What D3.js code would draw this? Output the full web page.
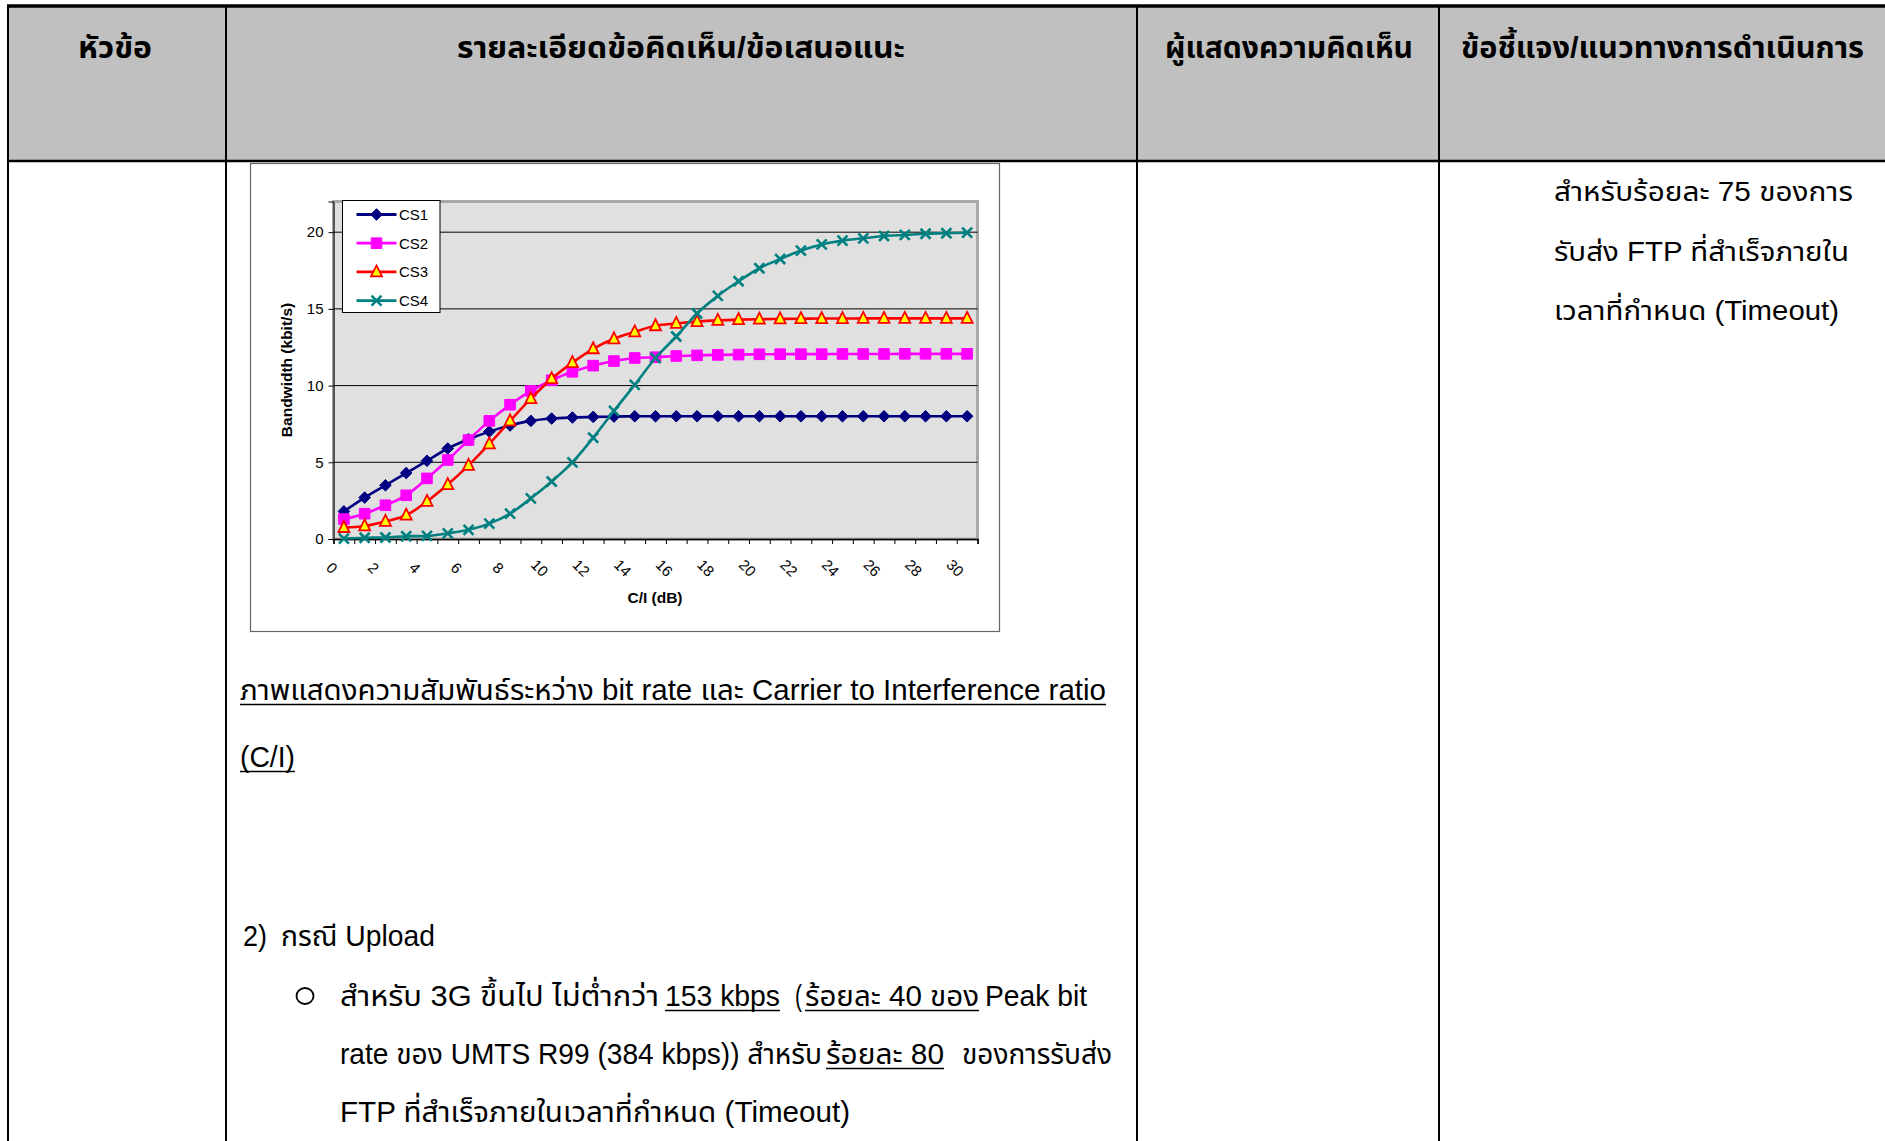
<!DOCTYPE html>
<html>
<head>
<meta charset="utf-8">
<script src="https://cdn.jsdelivr.net/npm/d3@7"></script>
<style>
  body { margin: 0; background: #fff; }
  svg { display: block; }
</style>
</head>
<body>
<svg id="page" width="1885" height="1141"></svg>
<script>
// --- chart data ---
const ciValues = [0, 1, 2, 3, 4, 5, 6, 7, 8, 9, 10, 11, 12, 13, 14, 15, 16, 17, 18, 19, 20, 21, 22, 23, 24, 25, 26, 27, 28, 29, 30];
const xTickLabels = [0, 2, 4, 6, 8, 10, 12, 14, 16, 18, 20, 22, 24, 26, 28, 30];
const yTickValues = [0, 5, 10, 15, 20];
const seriesNames = ['CS1', 'CS2', 'CS3', 'CS4'];
const cs1 = [1.8, 2.7, 3.5, 4.3, 5.1, 5.9, 6.5, 7.0, 7.4, 7.7, 7.85, 7.92, 7.96, 7.98, 8, 8, 8, 8, 8, 8, 8, 8, 8, 8, 8, 8, 8, 8, 8, 8, 8];
const cs2 = [1.3, 1.65, 2.2, 2.85, 3.95, 5.15, 6.45, 7.7, 8.75, 9.65, 10.35, 10.9, 11.3, 11.6, 11.8, 11.85, 11.93, 11.97, 12.0, 12.02, 12.04, 12.05, 12.05, 12.05, 12.06, 12.06, 12.06, 12.07, 12.07, 12.07, 12.07];
const cs3 = [0.75, 0.85, 1.15, 1.55, 2.45, 3.55, 4.8, 6.2, 7.7, 9.15, 10.45, 11.5, 12.4, 13.05, 13.5, 13.9, 14.05, 14.17, 14.25, 14.3, 14.33, 14.35, 14.36, 14.37, 14.37, 14.38, 14.38, 14.38, 14.38, 14.38, 14.38];
const cs4 = [0.02, 0.08, 0.1, 0.18, 0.2, 0.37, 0.6, 1.0, 1.65, 2.65, 3.75, 5.0, 6.6, 8.35, 10.05, 11.8, 13.2, 14.7, 15.85, 16.8, 17.65, 18.25, 18.8, 19.2, 19.45, 19.6, 19.75, 19.82, 19.9, 19.93, 19.97];

// --- table text ---
const headerTitles = ['หัวข้อ', 'รายละเอียดข้อคิดเห็น/ข้อเสนอแนะ', 'ผู้แสดงความคิดเห็น', 'ข้อชี้แจง/แนวทางการดำเนินการ'];
const captionLines = ['ภาพแสดงความสัมพันธ์ระหว่าง  bit rate และ Carrier to Interference ratio', '(C/I)'];
const uploadItem = ['2)', 'กรณี Upload'];
const uploadLines = [
  [['สำหรับ 3G ขึ้นไป ไม่ต่ำกว่า', false], ['153 kbps', true], ['(', false], ['ร้อยละ 40 ของ', true], ['Peak bit', false]],
  [['rate ของ UMTS R99 (384 kbps)) สำหรับ', false], ['ร้อยละ 80', true], ['ของการรับส่ง', false]],
  [['FTP ที่สำเร็จภายในเวลาที่กำหนด (Timeout)', false]]
];
const replyLines = ['สำหรับร้อยละ 75 ของการ', 'รับส่ง FTP ที่สำเร็จภายใน', 'เวลาที่กำหนด (Timeout)'];

const FONT = '"Liberation Sans Narrow", "Liberation Sans", "Noto Sans Thai", Loma, Garuda, sans-serif';
const CHART_FONT = '"Liberation Sans", Arial, sans-serif';

const svg = d3.select('#page');

// ---------- table frame ----------
const colX = [8, 226, 1137, 1439, 1885];
const headerTop = 6, headerBottom = 161;

svg.append('rect')
  .attr('x', colX[0]).attr('y', headerTop)
  .attr('width', 1885 - colX[0]).attr('height', headerBottom - headerTop)
  .style('fill', '#c0c0c0');

// vertical column lines
colX.slice(0, 4).forEach(x => {
  svg.append('line')
    .attr('x1', x).attr('x2', x)
    .attr('y1', headerTop).attr('y2', 1141)
    .style('stroke', '#000').style('stroke-width', 2);
});
svg.append('line')
  .attr('x1', colX[0] - 1).attr('x2', 1885).attr('y1', headerTop).attr('y2', headerTop)
  .style('stroke', '#000').style('stroke-width', 3.5);
svg.append('line')
  .attr('x1', colX[0] - 1).attr('x2', 1885).attr('y1', headerBottom).attr('y2', headerBottom)
  .style('stroke', '#000').style('stroke-width', 2.5);

// header titles, squeezed to the widths in the picture
const headerSpans = [[78, 152], [457, 905], [1165, 1413], [1461, 1864]];
headerTitles.forEach((t, i) => {
  svg.append('text')
    .attr('x', headerSpans[i][0]).attr('y', 58)
    .attr('textLength', headerSpans[i][1] - headerSpans[i][0])
    .attr('lengthAdjust', 'spacingAndGlyphs')
    .style('font-family', FONT)
    .style('font-weight', 'bold')
    .style('font-size', '30px')
    .style('fill', '#000')
    .text(t);
});

// helper for body text pieces
function bodyText(str, x0, x1, baseline, underline, size) {
  svg.append('text')
    .attr('x', x0).attr('y', baseline)
    .attr('textLength', x1 - x0)
    .attr('lengthAdjust', 'spacingAndGlyphs')
    .style('font-family', FONT)
    .style('font-size', (size || 29) + 'px')
    .style('fill', '#000')
    .text(str);
  if (underline) {
    svg.append('line')
      .attr('x1', x0).attr('x2', x1)
      .attr('y1', baseline + 4.5).attr('y2', baseline + 4.5)
      .style('stroke', '#000').style('stroke-width', 1.4);
  }
}

// caption below the chart
bodyText(captionLines[0], 240, 1106, 700, true);
bodyText(captionLines[1], 240, 295, 767, true);

// upload case
bodyText(uploadItem[0], 243, 267, 946, false);
bodyText(uploadItem[1], 281, 435, 946, false);
svg.append('ellipse')
  .attr('cx', 305).attr('cy', 996).attr('rx', 8.5).attr('ry', 8)
  .style('fill', 'none').style('stroke', '#000').style('stroke-width', 1.8);

const uploadSpans = [
  [[340, 659], [665, 780], [795, 802], [805, 979], [985, 1087]],
  [[340, 822], [826, 944], [962, 1112]],
  [[340, 850]]
];
const uploadBaselines = [1006, 1064, 1122];
uploadLines.forEach((line, li) => {
  line.forEach((seg, si) => {
    const span = uploadSpans[li][si];
    bodyText(seg[0], span[0], span[1], uploadBaselines[li], seg[1]);
  });
});

// reply column
const replySpans = [[1554, 1853], [1554, 1849], [1554, 1839]];
const replyBaselines = [201, 261, 320];
replyLines.forEach((t, i) => bodyText(t, replySpans[i][0], replySpans[i][1], replyBaselines[i], false, 27));

// ---------- chart ----------
const chartBox = { x: 250, y: 163, w: 749, h: 468 };
svg.append('rect')
  .attr('x', chartBox.x + 0.5).attr('y', chartBox.y + 0.5)
  .attr('width', chartBox.w).attr('height', chartBox.h)
  .style('fill', '#fff').style('stroke', '#666').style('stroke-width', 1.2);

const plot = { left: 333.5, right: 977.5, top: 201.5, bottom: 539 };

const x = d3.scaleBand().domain(ciValues).range([plot.left, plot.right]);
const xEdge = d3.scaleLinear().domain([0, ciValues.length]).range([plot.left, plot.right]);
const y = d3.scaleLinear().domain([0, 22]).range([plot.bottom, plot.top]);
const cx = d => x(d) + x.bandwidth() / 2;

const g = svg.append('g');

// plot area
g.append('rect')
  .attr('x', plot.left).attr('y', plot.top)
  .attr('width', plot.right - plot.left).attr('height', plot.bottom - plot.top)
  .style('fill', '#e0e0e0').style('stroke', '#a8a8a8').style('stroke-width', 3);

// gridlines
g.append('g')
  .selectAll('line')
  .data(yTickValues.filter(v => v > 0))
  .join('line')
  .attr('x1', plot.left).attr('x2', plot.right)
  .attr('y1', d => y(d)).attr('y2', d => y(d))
  .style('stroke', '#000').style('stroke-width', 1);

// y axis
const yAxis = g.append('g')
  .attr('transform', `translate(${plot.left},0)`)
  .call(d3.axisLeft(y).tickValues(yTickValues).tickSize(5).tickPadding(5));
yAxis.select('.domain').style('stroke', '#000');
yAxis.selectAll('text').style('font-family', CHART_FONT).style('font-size', '15px').style('fill', '#000');

// x axis: ticks at category edges, labels at every second category
const xTicks = g.append('g')
  .attr('transform', `translate(0,${plot.bottom})`)
  .call(d3.axisBottom(xEdge).tickValues(d3.range(0, ciValues.length + 1)).tickSize(5).tickFormat(''));
xTicks.select('.domain').style('stroke', '#000').style('stroke-width', 1.5);

g.append('g')
  .selectAll('text')
  .data(xTickLabels)
  .join('text')
  .attr('transform', d => `translate(${cx(d) - 12},${plot.bottom + 29}) rotate(45)`)
  .attr('text-anchor', 'middle')
  .attr('dy', '0.35em')
  .style('font-family', CHART_FONT)
  .style('font-size', '15px')
  .style('fill', '#000')
  .text(d => d);

// axis titles
g.append('text')
  .attr('transform', `translate(292,370) rotate(-90)`)
  .attr('text-anchor', 'middle')
  .style('font-family', CHART_FONT)
  .style('font-weight', 'bold')
  .style('font-size', '15.5px')
  .text('Bandwidth (kbit/s)');
g.append('text')
  .attr('x', 655).attr('y', 603)
  .attr('text-anchor', 'middle')
  .style('font-family', CHART_FONT)
  .style('font-weight', 'bold')
  .style('font-size', '15.5px')
  .text('C/I (dB)');

// series
const series = [
  { name: seriesNames[0], values: cs1, color: '#000080', marker: 'diamond' },
  { name: seriesNames[1], values: cs2, color: '#ff00ff', marker: 'square' },
  { name: seriesNames[2], values: cs3, color: '#ff0000', marker: 'triangle' },
  { name: seriesNames[3], values: cs4, color: '#008080', marker: 'x' }
];

function markerPath(type, px, py) {
  if (type === 'diamond') return `M${px},${py - 5.8}L${px + 5.8},${py}L${px},${py + 5.8}L${px - 5.8},${py}Z`;
  if (type === 'square') return `M${px - 5.3},${py - 5.3}h10.6v10.6h-10.6Z`;
  if (type === 'triangle') return `M${px},${py - 6.5}L${px + 5.5},${py + 4.5}L${px - 5.5},${py + 4.5}Z`;
  return `M${px - 5},${py - 5}L${px + 5},${py + 5}M${px + 5},${py - 5}L${px - 5},${py + 5}`;
}

function drawMarker(sel, s, px, py) {
  const p = sel.append('path').attr('d', markerPath(s.marker, px, py));
  if (s.marker === 'triangle') {
    p.style('fill', '#ffff00').style('stroke', '#ff0000').style('stroke-width', 1.8);
  } else if (s.marker === 'x') {
    p.style('fill', 'none').style('stroke', s.color).style('stroke-width', 2.6);
  } else {
    p.style('fill', s.color).style('stroke', s.color).style('stroke-width', 1);
  }
}

const line = d3.line()
  .x((d, i) => cx(ciValues[i]))
  .y(d => y(d))
  .curve(d3.curveCatmullRom.alpha(0.5));

series.forEach(s => {
  const sg = g.append('g');
  sg.append('path')
    .attr('d', line(s.values))
    .style('fill', 'none')
    .style('stroke', s.color)
    .style('stroke-width', 2.6);
  s.values.forEach((v, i) => drawMarker(sg, s, cx(ciValues[i]), y(v)));
});

// legend
const legend = g.append('g');
legend.append('rect')
  .attr('x', 342.5).attr('y', 200.5).attr('width', 97.5).attr('height', 112)
  .style('fill', '#fff').style('stroke', '#000').style('stroke-width', 1);
series.forEach((s, i) => {
  const ly = 214.5 + i * 28.7;
  legend.append('line')
    .attr('x1', 356.5).attr('x2', 396.5).attr('y1', ly).attr('y2', ly)
    .style('stroke', s.color).style('stroke-width', 2.8);
  drawMarker(legend, s, 376.5, ly);
  legend.append('text')
    .attr('x', 399).attr('y', ly).attr('dy', '0.36em')
    .style('font-family', CHART_FONT)
    .style('font-size', '15px')
    .style('fill', '#000')
    .text(s.name);
});
</script>
</body>
</html>
